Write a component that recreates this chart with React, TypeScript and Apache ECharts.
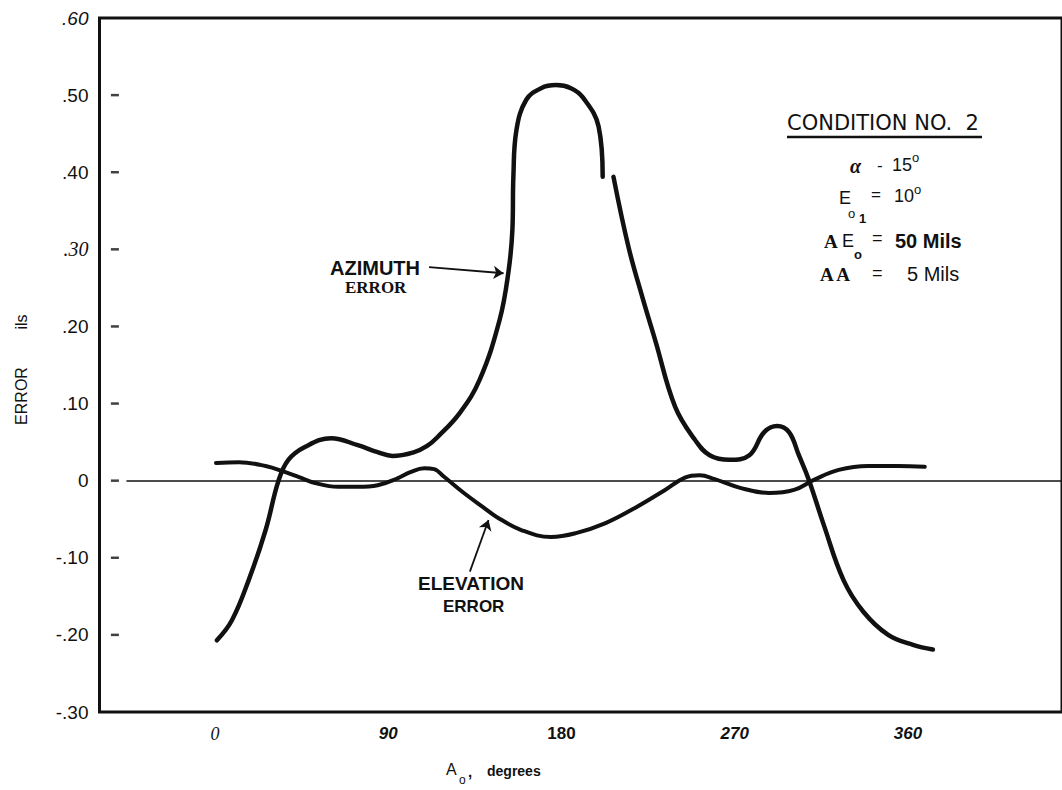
import React, { useEffect, useRef } from 'react';
import * as echarts from 'echarts';

// ---- axis ticks / labels ----
const xMin = -60;
const xMax = 440;
const xTickValues = [0, 90, 180, 270, 360];
const xTickLabels = ['0', '90', '180', '270', '360'];
const xTickStyles = ['serifItalic', 'boldItalic', 'bold', 'boldItalic', 'boldItalic'];

const yMin = -0.3;
const yMax = 0.6;
const yStep = 0.1;
const yTickLabels = ['-.30', '-.20', '-.10', '0', '.10', '.20', '.30', '.40', '.50', '.60'];
const yTickStyles = ['n', 'n', 'n', 'n', 'n', 'n', 'serifItalic', 'n', 'n', 'sansItalic'];
const yDashValues = [-0.2, -0.1, 0, 0.1, 0.2, 0.3, 0.4, 0.5];
const yDashX = -52;
const zeroLineStart = -46;

// ---- series data (A_o degrees, error in mils) ----
const azimuthDeg = [1.0, 8.8, 17.5, 26.3, 33.0, 38.1, 46.9, 60.3, 74.2, 84.5, 92.2, 103.5, 110.2, 115.4, 127.2, 137.5, 147.8, 152.4, 154.5, 155.0, 156.6, 161.7, 169.4, 177.2, 184.9, 191.1, 199.3, 201.4, 204.2, 207.0, 214.8, 222.0, 228.7, 239.0, 249.3, 257.0, 267.3, 277.6, 285.3, 292.0, 298.2, 303.3, 308.5, 316.2, 326.5, 336.8, 349.7, 362.6, 372.9];
const azimuthErr = [-0.207, -0.181, -0.129, -0.064, 0.0, 0.027, 0.044, 0.055, 0.046, 0.037, 0.032, 0.037, 0.045, 0.056, 0.088, 0.131, 0.208, 0.270, 0.326, 0.394, 0.455, 0.494, 0.509, 0.513, 0.509, 0.497, 0.459, 0.394, null, 0.394, 0.303, 0.238, 0.182, 0.096, 0.053, 0.033, 0.027, 0.033, 0.063, 0.071, 0.063, 0.033, 0.001, -0.057, -0.129, -0.170, -0.200, -0.213, -0.219];

const elevationDeg = [0.5, 12.4, 26.3, 36.6, 43.3, 52.0, 63.9, 74.2, 84.5, 94.8, 101.5, 108.7, 113.8, 119.0, 129.3, 139.6, 146.3, 159.1, 174.6, 187.5, 202.9, 218.4, 233.8, 244.1, 251.8, 259.6, 272.4, 287.9, 300.8, 311.1, 324.0, 339.4, 354.8, 368.7];
const elevationErr = [0.023, 0.024, 0.019, 0.011, 0.005, -0.003, -0.008, -0.008, -0.006, 0.003, 0.011, 0.016, 0.015, 0.005, -0.016, -0.035, -0.047, -0.064, -0.073, -0.068, -0.055, -0.035, -0.012, 0.004, 0.007, 0.002, -0.009, -0.016, -0.012, 0.001, 0.014, 0.019, 0.019, 0.018];

// annotation arrows (data coordinates)
const azimuthArrow = [[111.2, 0.277], [149.9, 0.269]];
const elevationArrow = [[132.4, -0.118], [142.1, -0.051]];

const INK = '#111';

const txt = (x: number, y: number, text: string, fontSize: number, o: any = {}) => ({
  type: 'text',
  x,
  y,
  rotation: o.rotation || 0,
  silent: true,
  style: {
    text,
    fontSize,
    fontFamily: o.family || 'Liberation Sans',
    fontWeight: o.weight || 'normal',
    fontStyle: o.style || 'normal',
    fill: INK,
    align: o.align || 'left',
    verticalAlign: 'middle',
  },
});

export default function App() {
  const ref = useRef<HTMLDivElement>(null);
  useEffect(() => {
    const chart = echarts.init(ref.current!, null, { renderer: 'svg' });
    const arrowMark = (pts: number[][]) => ({
      silent: true,
      symbol: ['none', 'arrow'],
      symbolSize: 10,
      label: { show: false },
      emphasis: { disabled: true },
      lineStyle: { type: 'solid', width: 1.8, color: INK },
      data: [[{ coord: pts[0] }, { coord: pts[1] }]],
    });
    const option: any = {
      animation: false,
      backgroundColor: '#fff',
      grid: {
        left: 99.5,
        top: 18,
        width: 970.8,
        height: 694,
        show: true,
        borderColor: INK,
        borderWidth: 3,
        backgroundColor: 'transparent',
      },
      xAxis: {
        type: 'value',
        min: xMin,
        max: xMax,
        axisLine: { show: false },
        axisTick: { show: false },
        splitLine: { show: false },
        axisLabel: {
          customValues: xTickValues,
          margin: 13,
          formatter: (v: number) => {
            const i = xTickValues.indexOf(v);
            return i < 0 ? '' : `{${xTickStyles[i]}|${xTickLabels[i]}}`;
          },
          rich: {
            serifItalic: { fontFamily: 'Liberation Serif', fontStyle: 'italic', fontSize: 18, color: INK },
            boldItalic: { fontFamily: 'Liberation Sans', fontStyle: 'italic', fontWeight: 'bold', fontSize: 17, color: INK },
            bold: { fontFamily: 'Liberation Sans', fontWeight: 'bold', fontSize: 17, color: INK },
          },
        },
      },
      yAxis: {
        type: 'value',
        min: yMin,
        max: yMax,
        interval: yStep,
        axisLine: { show: false },
        axisTick: { show: false },
        splitLine: { show: false },
        axisLabel: {
          margin: 11,
          formatter: (v: number) => {
            const i = Math.round((v - yMin) / yStep);
            return `{${yTickStyles[i]}|${yTickLabels[i]}}`;
          },
          rich: {
            n: { fontFamily: 'Liberation Sans', fontSize: 19, color: INK },
            serifItalic: { fontFamily: 'Liberation Serif', fontStyle: 'italic', fontSize: 20, color: INK },
            sansItalic: { fontFamily: 'Liberation Sans', fontStyle: 'italic', fontSize: 19, color: INK },
          },
        },
      },
      series: [
        {
          type: 'scatter',
          name: 'ticks',
          silent: true,
          symbol: 'rect',
          symbolSize: [8, 2.5],
          itemStyle: { color: INK },
          data: yDashValues.map((v) => [yDashX, v]),
          markLine: {
            silent: true,
            symbol: ['none', 'none'],
            label: { show: false },
            emphasis: { disabled: true },
            lineStyle: { type: 'solid', width: 1.5, color: INK },
            data: [[{ coord: [zeroLineStart, 0] }, { coord: [xMax, 0] }]],
          },
        },
        {
          type: 'line',
          name: 'Azimuth Error',
          data: azimuthDeg.map((d, i) => [d, azimuthErr[i] === null ? '-' : azimuthErr[i]]),
          smooth: 0.4,
          connectNulls: false,
          symbol: 'none',
          showSymbol: false,
          lineStyle: { width: 4.5, color: INK, cap: 'round', join: 'round' },
          markLine: arrowMark(azimuthArrow),
        },
        {
          type: 'line',
          name: 'Elevation Error',
          data: elevationDeg.map((d, i) => [d, elevationErr[i]]),
          smooth: 0.4,
          symbol: 'none',
          showSymbol: false,
          lineStyle: { width: 4, color: INK, cap: 'round', join: 'round' },
          markLine: arrowMark(elevationArrow),
        },
      ],
      graphic: [
        // y-axis title
        txt(21, 396, 'ERROR', 16, { align: 'center', rotation: Math.PI / 2 }),
        txt(21, 322, 'ils', 16, { align: 'center', rotation: Math.PI / 2 }),
        // x-axis title
        txt(446, 769, 'A', 16),
        txt(459, 780, 'o', 12),
        txt(468, 771, ',', 15, { weight: 'bold' }),
        txt(487, 771, 'degrees', 14, { weight: 'bold' }),
        // curve annotations
        txt(330, 268, 'AZIMUTH', 20, { weight: 'bold' }),
        txt(345, 287, 'ERROR', 17, { weight: 'bold', family: 'Liberation Serif' }),
        txt(418, 583, 'ELEVATION', 19, { weight: 'bold' }),
        txt(443, 606, 'ERROR', 17, { weight: 'bold' }),
        // condition block
        txt(787, 123, 'CONDITION NO.  2', 21, { family: 'DejaVu Sans' }),
        { type: 'line', silent: true, shape: { x1: 787, y1: 137, x2: 982, y2: 137 }, style: { stroke: INK, lineWidth: 2.5 } },
        txt(850, 166, 'α', 20, { weight: 'bold', style: 'italic', family: 'Liberation Serif' }),
        txt(877, 165, '-', 17),
        txt(892, 165, '15', 18),
        txt(912, 157, 'o', 13),
        txt(839, 198, 'E', 18),
        txt(848, 213, 'o', 13),
        txt(859, 218, '1', 13, { weight: 'bold' }),
        txt(871, 194, '=', 17),
        txt(894, 196, '10', 18),
        txt(914, 189, 'o', 13),
        txt(824, 241, 'A', 19, { weight: 'bold', family: 'Liberation Serif' }),
        txt(842, 241, 'E', 18),
        txt(854, 254, 'o', 13, { weight: 'bold' }),
        txt(872, 238, '=', 18),
        txt(895, 241, '50 Mils', 20, { weight: 'bold' }),
        txt(820, 274, 'A A', 19, { weight: 'bold', family: 'Liberation Serif' }),
        txt(872, 273, '=', 18),
        txt(907, 274, '5 Mils', 20),
      ],
    };
    chart.setOption(option);
    return () => chart.dispose();
  }, []);
  return (
    <div
      ref={ref}
      style={{ position: 'absolute', left: 0, top: 0, width: 1062, height: 790, background: '#fff' }}
    />
  );
}
